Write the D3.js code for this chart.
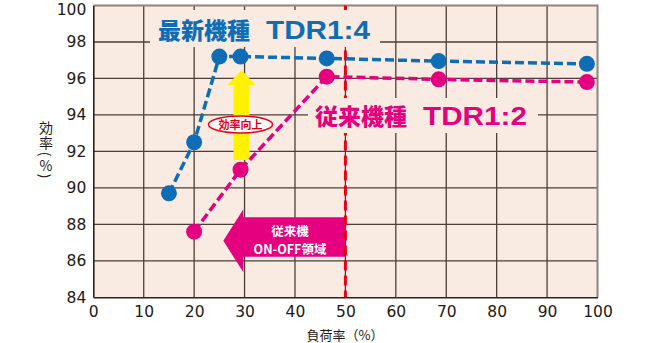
<!DOCTYPE html>
<html>
<head>
<meta charset="utf-8">
<script src="https://cdn.jsdelivr.net/npm/d3@7"></script>
<style>
  body { margin: 0; background: #fff; }
  svg { display: block; }
</style>
</head>
<body>
<script>
'use strict';

// load (%) and efficiency (%)
var loadNew = [15, 20, 25, 29.2, 46.3, 68.5, 97.9];
var effNew = [89.7, 92.5, 97.2, 97.2, 97.1, 96.95, 96.8];
var loadOld = [20, 29.2, 46.3, 68.5, 97.9];
var effOld = [87.6, 91.0, 96.1, 95.95, 95.8];
var xTicks = [0, 10, 20, 30, 40, 50, 60, 70, 80, 90, 100];
var yTicks = [84, 86, 88, 90, 92, 94, 96, 98, 100];
var labelNew = ["最新機種", "TDR1:4"];
var labelOld = ["従来機種", "TDR1:2"];
var limitLoad = 50; // ON-OFF boundary

var blue = "#0f6db6", pink = "#e4007f", gridCol = "#4b3f3a", bg = "#f9ebe2";
var jp = "'Noto Sans CJK JP', sans-serif";

var svg = d3.select("body").append("svg")
    .attr("width", 660)
    .attr("height", 343);

var xScale = d3.scaleLinear().domain([0, 100]).range([93.3, 597.5]);
var yScale = d3.scaleLinear().domain([84, 100]).range([297.3, 5.5]);

// plot background
svg.append("rect")
    .attr("x", xScale(0)).attr("y", yScale(100))
    .attr("width", xScale(100) - xScale(0))
    .attr("height", yScale(84) - yScale(100))
    .attr("fill", bg);

// grid
var grid = svg.append("g");
grid.selectAll(".gx").data(xTicks.slice(1, -1)).enter().append("line")
    .attr("x1", function(d) { return xScale(d); })
    .attr("x2", function(d) { return xScale(d); })
    .attr("y1", yScale(100)).attr("y2", yScale(84))
    .attr("stroke", gridCol).attr("stroke-width", 1.3);
grid.selectAll(".gy").data(yTicks.slice(1, -1)).enter().append("line")
    .attr("y1", function(d) { return yScale(d); })
    .attr("y2", function(d) { return yScale(d); })
    .attr("x1", xScale(0)).attr("x2", xScale(100))
    .attr("stroke", gridCol).attr("stroke-width", 1.3);

// frame: top/right light, left/bottom dark
svg.append("path")
    .attr("d", "M" + xScale(0) + "," + yScale(100) + "H" + xScale(100) + "V" + yScale(84))
    .attr("fill", "none").attr("stroke", "#8f8280").attr("stroke-width", 2);

// axes
var xAxis = svg.append("g")
    .attr("transform", "translate(0," + yScale(84) + ")")
    .call(d3.axisBottom(xScale).tickValues(xTicks).tickSize(0).tickPadding(9));
var yAxis = svg.append("g")
    .attr("transform", "translate(" + xScale(0) + ",0)")
    .call(d3.axisLeft(yScale).tickValues(yTicks).tickSize(0).tickPadding(7));
[xAxis, yAxis].forEach(function(a) {
    a.select(".domain").attr("stroke", "#2a2220").attr("stroke-width", 1.6);
    a.selectAll("text")
        .attr("fill", "#231815")
        .style("font-family", "'DejaVu Sans', sans-serif")
        .style("font-size", "15.5px");
});
yAxis.selectAll("text").filter(function(d) { return d === 100; }).attr("dy", "0.55em");

// axis titles
svg.append("text")
    .attr("x", 345).attr("y", 340)
    .attr("text-anchor", "middle")
    .style("font-family", jp)
    .style("font-size", "13px")
    .attr("fill", "#231815")
    .text("負荷率（%）");
// vertical y title, parentheses turned a quarter
var yTitle = ["効", "率", "(", "%", ")"];
var yTitleY = [127, 142, 154, 164.5, 176];
var yTitleRot = [0, 0, 90, 0, 90];
svg.selectAll(".ytitle").data(yTitle).enter().append("text")
    .attr("transform", function(d, i) {
        return "translate(46," + yTitleY[i] + ") rotate(" + yTitleRot[i] + ")";
    })
    .attr("text-anchor", "middle")
    .attr("dominant-baseline", "central")
    .style("font-family", jp)
    .style("font-size", "14px")
    .attr("fill", "#231815")
    .text(function(d) { return d; });

// pink ON-OFF arrow (left pointing)
var ax = xScale(limitLoad);
svg.append("path")
    .attr("d", "M223.3,240.7 L243.3,209.3 L243.3,217.3 L" + ax + ",217.3 L" + ax + ",256.7 L243.3,256.7 L243.3,272.3 Z")
    .attr("fill", pink);
svg.append("text")
    .attr("x", 290).attr("y", 236)
    .attr("text-anchor", "middle")
    .style("font-family", jp)
    .style("font-weight", "bold")
    .style("font-size", "12.5px")
    .attr("fill", "#fff")
    .text("従来機");
svg.append("text")
    .attr("x", 290).attr("y", 253.5)
    .attr("text-anchor", "middle")
    .style("font-family", jp)
    .style("font-weight", "bold")
    .style("font-size", "12.5px")
    .attr("fill", "#fff")
    .text("ON-OFF領域");

// red boundary line at 50%
svg.append("line")
    .attr("x1", ax).attr("x2", ax)
    .attr("y1", yScale(100)).attr("y2", yScale(84))
    .attr("stroke", "#e60012").attr("stroke-width", 3)
    .attr("stroke-dasharray", "10,5");

// label patches hide grid and red line
svg.append("rect").attr("x", 150).attr("y", 10).attr("width", 230).attr("height", 37).attr("fill", bg);
svg.append("rect").attr("x", 308).attr("y", 98).attr("width", 230).attr("height", 35).attr("fill", bg);

// yellow arrow
svg.append("path")
    .attr("d", "M241.5,70 L255.5,85 L249.5,85 L249.5,160 L233.5,160 L233.5,85 L227.5,85 Z")
    .attr("fill", "#fff100");
svg.append("ellipse")
    .attr("cx", 240.5).attr("cy", 124.5).attr("rx", 32).attr("ry", 8.5)
    .attr("fill", "#fff").attr("stroke", "#e60012").attr("stroke-width", 1.5);
svg.append("text")
    .attr("x", 240.5).attr("y", 128.5)
    .attr("text-anchor", "middle")
    .style("font-family", jp)
    .style("font-weight", "bold")
    .style("font-size", "11px")
    .attr("fill", "#e60012")
    .text("効率向上");

// series
function drawSeries(xs, ys, col) {
    var pts = xs.map(function(d, i) { return [d, ys[i]]; });
    var line = d3.line()
        .x(function(d) { return xScale(d[0]); })
        .y(function(d) { return yScale(d[1]); });
    svg.append("path")
        .attr("d", line(pts))
        .attr("fill", "none")
        .attr("stroke", col).attr("stroke-width", 3.5)
        .attr("stroke-dasharray", "9,4");
    svg.selectAll(null).data(pts).enter().append("circle")
        .attr("cx", function(d) { return xScale(d[0]); })
        .attr("cy", function(d) { return yScale(d[1]); })
        .attr("r", 8)
        .attr("fill", col);
}
drawSeries(loadOld, effOld, pink);
drawSeries(loadNew, effNew, blue);

// series labels: CJK part and latin part set separately
function seriesLabel(parts, x, y, col) {
    svg.append("text")
        .attr("x", x).attr("y", y)
        .style("font-family", jp)
        .style("font-weight", "900")
        .style("font-size", "23px")
        .attr("fill", col)
        .text(parts[0]);
    svg.append("text")
        .attr("x", x + 108).attr("y", y)
        .attr("textLength", 104).attr("lengthAdjust", "spacingAndGlyphs")
        .style("font-family", "'Liberation Sans', sans-serif")
        .style("font-weight", "bold")
        .style("font-size", "26px")
        .attr("fill", col)
        .text(parts[1]);
}
seriesLabel(labelNew, 158, 39, blue);
seriesLabel(labelOld, 315, 125, pink);
</script>
</body>
</html>
